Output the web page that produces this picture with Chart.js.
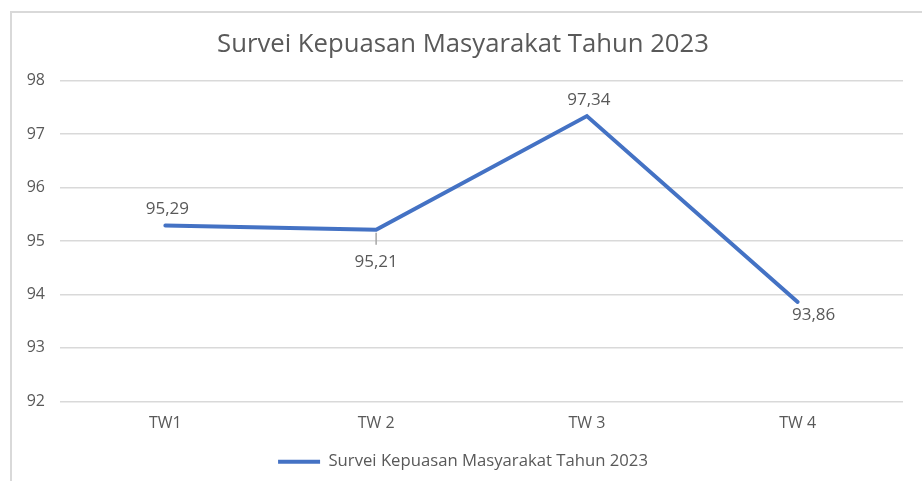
<!DOCTYPE html>
<html>
<head>
<meta charset="utf-8">
<script src="https://cdn.jsdelivr.net/npm/chart.js@4/dist/chart.umd.min.js"></script>
<style>
  html, body { margin: 0; padding: 0; background: #fff; }
  #wrap { width: 922px; height: 481px; }
</style>
</head>
<body>
<div id="wrap"><canvas id="skmChart" width="922" height="481"></canvas></div>
<script>
// data
var chartTitle = "Survei Kepuasan Masyarakat Tahun 2023";
var categories = ["TW1", "TW 2", "TW 3", "TW 4"];
var skmValues = [95.29, 95.21, 97.34, 93.86];
var yTicks = [92, 93, 94, 95, 96, 97, 98];

var textColor = "#595959";
var lineColor = "#4472C4";
var fontFamily = "'Open Sans', 'Noto Sans', sans-serif";

// where each value label sits relative to its point
var labelPlace = ["above", "below", "above", "below"];

function fmt(v){
    return v.toFixed(2).replace(".", ",");
}

var frame = {
    id: "frame",
    beforeDraw: function(chart){
        var ctx = chart.ctx;
        ctx.save();
        ctx.fillStyle = "#fff";
        ctx.fillRect(0, 0, chart.width, chart.height);
        ctx.strokeStyle = "#d9d9d9";
        ctx.lineWidth = 2;
        ctx.strokeRect(11, 12, chart.width + 20, chart.height + 20);
        ctx.restore();
    }
};

var valueLabels = {
    id: "valueLabels",
    afterDatasetsDraw: function(chart){
        var ctx = chart.ctx;
        var meta = chart.getDatasetMeta(0);
        ctx.save();
        ctx.font = "17px " + fontFamily;
        ctx.fillStyle = textColor;
        ctx.textAlign = "center";
        ctx.textBaseline = "middle";
        for(var i=0;i<meta.data.length;i++){
            var p = meta.data[i];
            var x = p.x, y = p.y;
            if(labelPlace[i] == "above"){
                ctx.fillText(fmt(skmValues[i]), x + 2, y - 16);
            }else{
                if(i == meta.data.length - 1){
                    ctx.fillText(fmt(skmValues[i]), x + 16, y + 13);
                }else{
                    // small leader line like the original
                    ctx.strokeStyle = "#a6a6a6";
                    ctx.lineWidth = 1.5;
                    ctx.beginPath();
                    ctx.moveTo(x, y + 3);
                    ctx.lineTo(x, y + 15);
                    ctx.stroke();
                    ctx.fillText(fmt(skmValues[i]), x, y + 32);
                }
            }
        }
        ctx.restore();
    }
};

Chart.defaults.font.family = fontFamily;
Chart.defaults.color = textColor;

var ctx = document.getElementById("skmChart");
var skmChart = new Chart(ctx, {
    type: "line",
    data: {
        labels: categories,
        datasets: [{
            label: chartTitle,
            data: skmValues,
            borderColor: lineColor,
            backgroundColor: lineColor,
            borderWidth: 4,
            pointRadius: 0,
            tension: 0,
            borderCapStyle: "round"
        }]
    },
    options: {
        responsive: false,
        animation: false,
        layout: { padding: { left: 23, right: 19, top: 0, bottom: 1 } },
        plugins: {
            title: {
                display: true,
                text: chartTitle,
                color: textColor,
                font: { size: 25.7, weight: "normal" },
                padding: { top: 29, bottom: 21 }
            },
            legend: {
                position: "bottom",
                labels: {
                    color: textColor,
                    font: { size: 16.7 },
                    boxWidth: 42,
                    boxHeight: 4,
                    padding: 8,
                    generateLabels: function(chart){
                        return [{
                            text: chartTitle,
                            fillStyle: lineColor,
                            strokeStyle: lineColor,
                            lineWidth: 0,
                            fontColor: textColor,
                            datasetIndex: 0
                        }];
                    }
                }
            },
            tooltip: { enabled: false }
        },
        scales: {
            x: {
                offset: true,
                grid: { display: false, drawTicks: false },
                border: { display: false },
                ticks: { padding: 13, font: { size: 16 } },
                afterFit: function(scale){ scale.height = 44; }
            },
            y: {
                min: 92,
                max: 98,
                afterBuildTicks: function(scale){
                    scale.ticks = yTicks.map(function(v){ return { value: v }; });
                },
                afterFit: function(scale){ scale.width = 37; },
                grid: { color: "#d9d9d9", lineWidth: 1.5, drawTicks: false },
                border: { display: false },
                ticks: { padding: 15, font: { size: 16 } }
            }
        }
    },
    plugins: [frame, valueLabels]
});
console.log(skmChart.chartArea);
</script>
</body>
</html>
